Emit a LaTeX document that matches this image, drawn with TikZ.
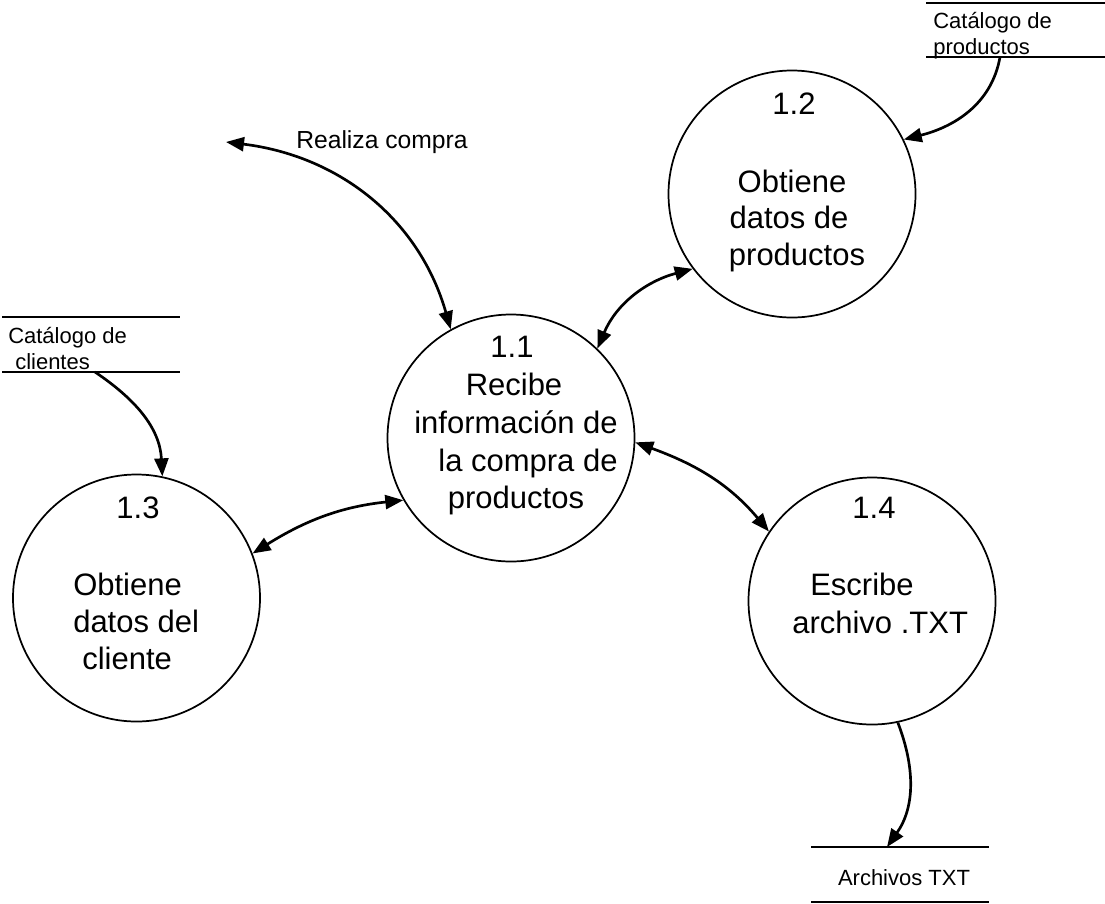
\documentclass[tikz,border=0pt]{standalone}
\usepackage{fontspec}
\setmainfont{Liberation Sans}
\usetikzlibrary{arrows.meta}
\begin{document}
\begin{tikzpicture}[x=0.75pt,y=0.75pt,
  proc/.style={circle, draw, line width=1.3pt, minimum size=185.25pt, inner sep=0pt},
  big/.style={font=\fontsize{23.25}{27.75}\selectfont, inner sep=0pt},
  small/.style={font=\fontsize{16.5}{19}\selectfont, inner sep=0pt},
  mid/.style={font=\fontsize{18.5}{21}\selectfont, inner sep=0pt},
  flow/.style={line width=2pt, -{Triangle[length=13.5pt,width=10.5pt]}},
  bflow/.style={line width=2pt, {Triangle[length=13.5pt,width=10.5pt]}-{Triangle[length=13.5pt,width=10.5pt]}},
  storeline/.style={line width=1.5pt}]
\useasboundingbox (0,0) rectangle (1105,-903);

% processes
\node[proc] (c11) at (511,-438) {};
\node[proc] (c12) at (792,-194) {};
\node[proc] (c13) at (136.5,-598) {};
\node[proc] (c14) at (872,-601) {};

% texts of 1.1
\node[big, anchor=base] (t11a) at (512,-357) {1.1};
\node[big, anchor=base] (t11b) at (514,-395) {Recibe};
\node[big, anchor=base] (t11c) at (516,-433) {información de};
\node[big, anchor=base] (t11d) at (528,-471) {la compra de};
\node[big, anchor=base] (t11e) at (516,-508) {productos};

% texts of 1.2
\node[big, anchor=base] (t12a) at (794,-114) {1.2};
\node[big, anchor=base] (t12b) at (792,-192) {Obtiene};
\node[big, anchor=base] (t12c) at (789,-228) {datos de};
\node[big, anchor=base] (t12d) at (797,-265) {productos};

% texts of 1.3
\node[big, anchor=base] (t13a) at (138,-518) {1.3};
\node[big, anchor=base west] (t13b) at (73,-595) {Obtiene};
\node[big, anchor=base west] (t13c) at (73,-632) {datos del};
\node[big, anchor=base west] (t13d) at (82,-669) {cliente};

% texts of 1.4
\node[big, anchor=base] (t14a) at (874,-518) {1.4};
\node[big, anchor=base west] (t14b) at (810,-595) {Escribe};
\node[big, anchor=base west] (t14c) at (792,-633) {archivo .TXT};

% data stores
\draw[storeline] (926,-3) -- (1105,-3);
\draw[storeline] (926,-57) -- (1105,-57);
\node[small, anchor=base west] (sp1) at (933,-28) {Catálogo de};
\node[small, anchor=base west] (sp2) at (933,-54) {productos};
\coordinate (sp) at (1000,-57);

\draw[storeline] (2,-317) -- (180,-317);
\draw[storeline] (2,-372) -- (180,-372);
\node[small, anchor=base west] (sc1) at (8,-343) {Catálogo de};
\node[small, anchor=base west] (sc2) at (15,-369) {clientes};
\coordinate (sc) at (95,-372);

\draw[storeline] (811,-847) -- (989,-847);
\draw[storeline] (811,-902) -- (989,-902);
\node[small, anchor=base] (st1) at (904,-885) {Archivos TXT};
\coordinate (st) at (887,-847);

% external flow
\node[mid, anchor=base west] (rc1) at (296,-148) {Realiza compra};
\coordinate (rc) at (226,-142);

% connectors
\draw[flow] (sp) to[out=-100,in=14] (c12.26);
\draw[flow] (sc) to[out=-34,in=93] (c13.78);
\draw[bflow] (rc) to[out=-7,in=106] (c11.119);
\draw[bflow] (c11.46) to[out=67,in=195] (c12.217);
\draw[bflow] (c13.21) to[out=32,in=186] (c11.210);
\draw[bflow] (c11.358) to[out=-20,in=130] (c14.146);
\draw[flow] (c14.282) to[out=-69,in=55] (st);
\end{tikzpicture}
\end{document}
